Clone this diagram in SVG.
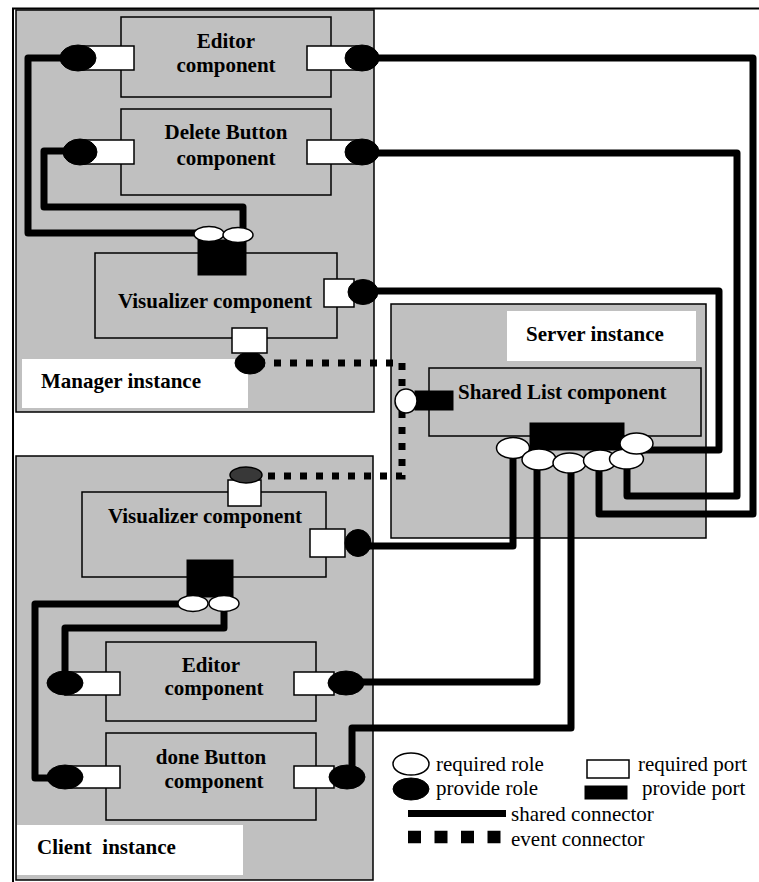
<svg xmlns="http://www.w3.org/2000/svg" width="759" height="882" viewBox="0 0 759 882" font-family="'Liberation Serif', 'DejaVu Serif', serif">
<style>
.panel{fill:#c0c0c0;stroke:#000;stroke-width:1.5}
.comp{fill:#c0c0c0;stroke:#000;stroke-width:1.5}
.lbl{fill:#fff;stroke:none}
.wp{fill:#fff;stroke:#000;stroke-width:1.5}
.bp{fill:#000;stroke:#000;stroke-width:1}
.wr{fill:#fff;stroke:#000;stroke-width:1.5}
.br{fill:#000;stroke:#000;stroke-width:1}
.t{font-size:21px;font-weight:bold;fill:#000}
.tm{text-anchor:middle}
.lg{font-size:21px;fill:#000}
.sc{fill:none;stroke:#000;stroke-width:7;stroke-linejoin:round}
.ev{fill:none;stroke:#000;stroke-width:7;stroke-dasharray:7 9}
</style>
<rect x="0" y="0" width="759" height="882" fill="#fff"/>
<path d="M13,882 V8.5 H759" fill="none" stroke="#000" stroke-width="2"/>

<g id="manager-instance">
<rect class="panel" x="16" y="10" width="358" height="402"/>
<rect class="lbl" x="22" y="359" width="226" height="49"/>
<text class="t" x="41" y="388" font-family="'Liberation Serif', serif">Manager instance</text>
</g>
<g id="client-instance">
<rect class="panel" x="16" y="456" width="357" height="424"/>
<rect class="lbl" x="17" y="825" width="226" height="50"/>
<text class="t" x="37" y="854" xml:space="preserve" font-family="'Liberation Serif', serif">Client  instance</text>
</g>
<g id="server-instance">
<rect class="panel" x="391" y="304" width="315" height="234"/>
<rect class="lbl" x="507" y="311" width="189" height="50"/>
<text class="t tm" x="595" y="341" font-family="'Liberation Serif', serif">Server instance</text>
</g>

<g id="connectors">
<path class="sc" d="M78,58 H28 V233 H209"/>
<path class="sc" d="M80,151 H44 V207 H243 V235"/>
<path class="sc" d="M361,58 H753 V514 H599 V461"/>
<path class="sc" d="M362,153 H737 V496 H627 V459"/>
<path class="sc" d="M363,291 H719 V450 H636"/>
<path class="sc" d="M358,546 H513 V448"/>
<path class="sc" d="M346,682 H537 V459"/>
<path class="sc" d="M352,776 V728 H571 V463"/>
<path class="sc" d="M193,604 H35 V778 H65"/>
<path class="sc" d="M224,604 V628 H65 V683"/>
<path class="ev" d="M258,363 H402 V476 H254"/>
</g>

<g id="manager-editor" font-family="'Liberation Serif', serif">
<rect class="comp" x="121" y="17" width="210" height="80"/>
<text class="t tm" x="226" y="48">Editor</text>
<text class="t tm" x="226" y="72">component</text>
<rect class="wp" x="80" y="46" width="54" height="24"/>
<ellipse class="br" cx="78" cy="58" rx="18" ry="13"/>
<rect class="wp" x="307" y="46" width="50" height="24"/>
<ellipse class="br" cx="362" cy="58" rx="17" ry="13"/>
</g>
<g id="manager-delete-button" font-family="'Liberation Serif', serif">
<rect class="comp" x="121" y="109" width="210" height="86"/>
<text class="t tm" x="226" y="139">Delete Button</text>
<text class="t tm" x="226" y="165">component</text>
<rect class="wp" x="80" y="140" width="54" height="24"/>
<ellipse class="br" cx="80" cy="152" rx="17" ry="13"/>
<rect class="wp" x="307" y="140" width="50" height="24"/>
<ellipse class="br" cx="362" cy="152" rx="17" ry="13"/>
</g>
<g id="manager-visualizer" font-family="'Liberation Serif', serif">
<rect class="comp" x="95" y="253" width="242" height="85"/>
<text class="t tm" x="215" y="308">Visualizer component</text>
<rect class="bp" x="198" y="240" width="48" height="35"/>
<ellipse class="wr" cx="209" cy="234" rx="15" ry="7.5"/>
<ellipse class="wr" cx="238" cy="235" rx="15" ry="7.5"/>
<rect class="wp" x="324" y="279" width="30" height="28"/>
<ellipse class="br" cx="363" cy="292" rx="15" ry="12.5"/>
<ellipse class="br" cx="250" cy="363" rx="15" ry="11"/>
<rect class="wp" x="232" y="328" width="35" height="25"/>
</g>

<g id="server-shared-list" font-family="'Liberation Serif', serif">
<rect class="comp" x="429" y="368" width="272" height="68"/>
<text class="t" x="458" y="399">Shared List component</text>
<rect class="bp" x="415" y="391" width="38" height="19"/>
<ellipse class="wr" cx="406" cy="401" rx="11" ry="12"/>
<rect class="bp" x="530" y="423" width="94" height="27"/>
<ellipse class="wr" cx="513" cy="448" rx="16.5" ry="10.5"/>
<ellipse class="wr" cx="539" cy="459.5" rx="17" ry="10.5"/>
<ellipse class="wr" cx="569.5" cy="463" rx="16.5" ry="10"/>
<ellipse class="wr" cx="600" cy="460.5" rx="16.5" ry="10.5"/>
<ellipse class="wr" cx="626.5" cy="459" rx="17" ry="10"/>
<ellipse class="wr" cx="636.5" cy="443.5" rx="16.5" ry="10.5"/>
</g>

<g id="client-visualizer" font-family="'Liberation Serif', serif">
<rect class="comp" x="82" y="492" width="244" height="85"/>
<text class="t tm" x="205" y="523">Visualizer component</text>
<rect class="wp" x="228" y="480" width="33" height="26"/>
<ellipse cx="246" cy="475" rx="16" ry="8" fill="#383838" stroke="#000" stroke-width="1.5"/>
<rect class="wp" x="310" y="529" width="35" height="28"/>
<ellipse class="br" cx="358" cy="543" rx="13" ry="13.5"/>
<rect class="bp" x="187" y="560" width="46" height="37"/>
<ellipse class="wr" cx="193" cy="603.5" rx="15" ry="8"/>
<ellipse class="wr" cx="224" cy="603.5" rx="15" ry="8"/>
</g>
<g id="client-editor" font-family="'Liberation Serif', serif">
<rect class="comp" x="106" y="642" width="210" height="79"/>
<text class="t tm" x="211" y="672">Editor</text>
<text class="t tm" x="214" y="695">component</text>
<rect class="wp" x="65" y="672" width="55" height="23"/>
<ellipse class="br" cx="65" cy="683" rx="18" ry="12"/>
<rect class="wp" x="294" y="672" width="40" height="23"/>
<ellipse class="br" cx="346" cy="683" rx="18" ry="12"/>
</g>
<g id="client-done-button" font-family="'Liberation Serif', serif">
<rect class="comp" x="106" y="733" width="210" height="87"/>
<text class="t tm" x="211" y="764">done Button</text>
<text class="t tm" x="214" y="788">component</text>
<rect class="wp" x="65" y="766" width="55" height="22"/>
<ellipse class="br" cx="65" cy="777" rx="18" ry="12"/>
<rect class="wp" x="294" y="766" width="40" height="22"/>
<ellipse class="br" cx="347" cy="777" rx="18" ry="12"/>
</g>

<g id="legend" font-family="'Liberation Serif', serif">
<ellipse class="wr" cx="411" cy="764" rx="18" ry="11"/>
<text class="lg" x="436" y="771">required role</text>
<ellipse class="br" cx="411" cy="789" rx="18" ry="11"/>
<text class="lg" x="436" y="795">provide role</text>
<rect class="wp" x="587" y="760" width="42" height="18"/>
<text class="lg" x="638" y="771">required port</text>
<rect class="bp" x="585" y="786" width="42" height="13"/>
<text class="lg" x="642" y="795">provide port</text>
<line x1="408" y1="813.5" x2="506" y2="813.5" stroke="#000" stroke-width="7"/>
<text class="lg" x="511" y="821">shared connector</text>
<line x1="408" y1="837" x2="502" y2="837" stroke="#000" stroke-width="12.5" stroke-dasharray="13 13.5"/>
<text class="lg" x="511" y="846">event connector</text>
</g>
</svg>
